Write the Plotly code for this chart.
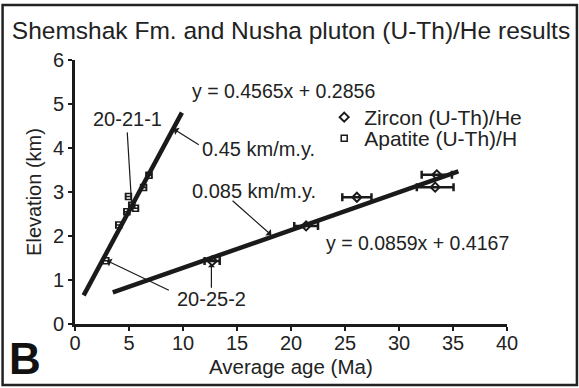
import plotly.graph_objects as go

# ---- data ----
zircon_age = [12.7, 21.4, 26.1, 33.5, 33.35]
zircon_elev = [1.43, 2.23, 2.88, 3.39, 3.11]
zircon_err = [0.7, 1.1, 1.35, 1.4, 1.7]

apatite_age = [2.85, 4.05, 4.8, 4.95, 5.25, 5.6, 6.35, 6.85]
apatite_elev = [1.44, 2.25, 2.55, 2.9, 2.7, 2.63, 3.1, 3.38]
apatite_err = [0.25, 0.25, 0.25, 0.25, 0.25, 0.25, 0.25, 0.25]

# regression lines (slope, intercept, x extent)
ap_slope, ap_int, ap_x = 0.4565, 0.2856, [0.8, 9.9]
zr_slope, zr_int, zr_x = 0.0859, 0.4167, [3.5, 35.5]

x_ticks = [0, 5, 10, 15, 20, 25, 30, 35, 40]
y_ticks = [0, 1, 2, 3, 4, 5, 6]

W, H = 579, 388
ML, MR, MT, MB = 74.5, 72, 60, 64
PW, PH = W - ML - MR, H - MT - MB


def px(xp):
    return (xp - ML) / PW


def py(yp):
    return (H - MB - yp) / PH


FONT = "Liberation Sans, Arial, Helvetica, sans-serif"
INK = "#1a1a1a"
TXT = "#222222"

fig = go.Figure()

fig.add_trace(go.Scatter(
    x=ap_x, y=[ap_slope * v + ap_int for v in ap_x], mode="lines",
    line=dict(color=INK, width=4.5), showlegend=False, hoverinfo="skip"))
fig.add_trace(go.Scatter(
    x=zr_x, y=[zr_slope * v + zr_int for v in zr_x], mode="lines",
    line=dict(color=INK, width=4.5), showlegend=False, hoverinfo="skip"))

fig.add_trace(go.Scatter(
    x=zircon_age, y=zircon_elev, mode="markers", name="Zircon (U-Th)/He",
    marker=dict(symbol="diamond-open", size=7, color=INK, line=dict(width=2)),
    error_x=dict(type="data", array=zircon_err, color=INK, thickness=2.5, width=4),
    legend="legend"))
fig.add_trace(go.Scatter(
    x=apatite_age, y=apatite_elev, mode="markers", name="Apatite (U-Th)/H",
    marker=dict(symbol="square-open", size=6, color=INK, line=dict(width=1.5)),
    error_x=dict(type="data", array=apatite_err, color=INK, thickness=1.5, width=3),
    legend="legend2"))

ann = []
def txt(size):
    return dict(font=dict(family=FONT, size=size, color=TXT), showarrow=False)

ann.append(dict(x=19.3, y=5.3, xref="x", yref="y", text="y = 0.4565x + 0.2856", **txt(19.5)))
ann.append(dict(x=31.7, y=1.85, xref="x", yref="y", text="y = 0.0859x + 0.4167", **txt(19.5)))
ann.append(dict(x=11.6, y=3.97, xref="x", yref="y", text="0.45 km/m.y.", xanchor="left", **txt(20)))
ann.append(dict(x=16.6, y=3.03, xref="x", yref="y", text="0.085 km/m.y.", **txt(20)))
ann.append(dict(x=4.86, y=4.66, xref="x", yref="y", text="20-21-1", **txt(20)))
ann.append(dict(x=12.63, y=0.57, xref="x", yref="y", text="20-25-2", **txt(20)))

# x-axis title placed as text just below the tick labels
ann.append(dict(x=20, y=py(366), xref="x", yref="paper", text="Average age (Ma)",
                xanchor="center", yanchor="middle", **txt(20.5)))

arr = dict(xref="x", yref="y", axref="x", ayref="y", text="", showarrow=True,
           arrowcolor=INK, arrowwidth=1.2)
ann.append(dict(x=9.14, y=4.43, ax=11.6, ay=4.05, arrowhead=1, arrowsize=1.2, **arr))
ann.append(dict(x=5.23, y=2.78, ax=4.83, ay=4.39, arrowhead=0, **arr))
ann.append(dict(x=18.18, y=2.02, ax=14.45, ay=2.83, arrowhead=1, arrowsize=1.2, **arr))
ann.append(dict(x=2.95, y=1.44, ax=8.83, ay=0.75, arrowhead=1, arrowsize=1.2, **arr))
ann.append(dict(x=12.63, y=1.37, ax=12.63, ay=0.79, arrowhead=1, arrowsize=1.0, **arr))

ann.append(dict(x=px(24), y=py(358), xref="paper", yref="paper", text="<b>B</b>",
                xanchor="center", yanchor="middle",
                showarrow=False, font=dict(family=FONT, size=44, color="#111")))

fig.update_layout(
    width=W, height=H,
    margin=dict(l=ML, r=MR, t=MT, b=MB, autoexpand=False),
    paper_bgcolor="white", plot_bgcolor="white",
    font=dict(family=FONT, size=20, color=TXT),
    title=dict(text="Shemshak Fm. and Nusha pluton (U-Th)/He results",
               x=291 / W, xref="container", xanchor="center",
               y=1 - 30 / H, yref="container", yanchor="middle",
               font=dict(family=FONT, size=24.5, color=TXT)),
    xaxis=dict(range=[0, 40], tickvals=x_ticks, showline=True, linewidth=3,
               linecolor=INK, ticks="outside", ticklen=4, tickwidth=2,
               tickcolor=INK, showgrid=False, zeroline=False, ticklabelstandoff=-5,
               tickfont=dict(size=20)),
    yaxis=dict(range=[0, 6], tickvals=y_ticks, showline=True, linewidth=3,
               linecolor=INK, ticks="outside", ticklen=4, tickwidth=2,
               tickcolor=INK, showgrid=False, zeroline=False,
               tickfont=dict(size=20), title=dict(text="Elevation (km)", standoff=6,
                                                   font=dict(size=20))),
    legend=dict(x=px(324), y=py(97), xanchor="left", yanchor="top",
                bgcolor="rgba(0,0,0,0)", font=dict(size=21), itemwidth=30),
    legend2=dict(x=px(324), y=py(118), xanchor="left", yanchor="top",
                 bgcolor="rgba(0,0,0,0)", font=dict(size=21), itemwidth=30),
    annotations=ann,
    shapes=[dict(type="rect", xref="paper", yref="paper",
                 x0=px(2), x1=px(577), y0=py(385), y1=py(5),
                 line=dict(color="#222", width=2.5), fillcolor="rgba(0,0,0,0)")],
    showlegend=True,
)

fig.write_html("out.html", config={"displayModeBar": False},
               post_script="document.body.style.margin='0';")
